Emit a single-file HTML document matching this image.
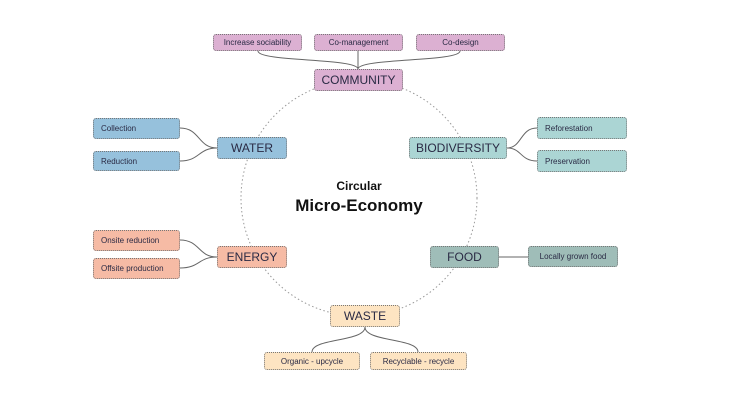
<!DOCTYPE html>
<html><head><meta charset="utf-8"><style>
body{margin:0;width:730px;height:411px;background:#fff;position:relative;overflow:hidden;font-family:"Liberation Sans",sans-serif;}
.b{position:absolute;box-sizing:border-box;border:1px dotted #777;border-radius:3px;display:flex;align-items:center;justify-content:center;color:#2a2a44;}
.s{font-size:8px;}
.s.l{justify-content:flex-start;padding-left:7px;}
.m{font-size:12px;}
.pk{background:#dcb0d2}.bl{background:#96c1dc}.or{background:#f6bba5}.tl{background:#abd5d4}.gr{background:#9fbdb8}.yl{background:#fde4c2}
.t{position:absolute;left:259px;width:200px;text-align:center;font-weight:bold;color:#111;}
</style></head><body>
<svg width="730" height="411" style="position:absolute;left:0;top:0">
<circle cx="359" cy="198" r="118" fill="none" stroke="#999" stroke-width="1" stroke-dasharray="1.5,2.5"/>
<g fill="none" stroke="#666" stroke-width="1">
<path d="M258 51 C258 62,358 58,358 69"/><path d="M358 51 L358 69"/><path d="M460 51 C460 62,358 58,358 69"/>
<path d="M180 128 C200 128,198 148,217 148"/><path d="M180 161 C200 161,198 148,217 148"/>
<path d="M180 240 C200 240,198 257,217 257"/><path d="M180 268 C200 268,198 257,217 257"/>
<path d="M507 148 C522 148,520 128,537 128"/><path d="M507 148 C522 148,520 161,537 161"/>
<path d="M499 257 L528 257"/>
<path d="M365 327 C365 342,312 338,312 352"/><path d="M365 327 C365 342,418 338,418 352"/>
</g></svg>
<div class="b s pk" style="left:213px;top:34px;width:89px;height:17px">Increase sociability</div>
<div class="b s pk" style="left:314px;top:34px;width:89px;height:17px">Co-management</div>
<div class="b s pk" style="left:416px;top:34px;width:89px;height:17px">Co-design</div>
<div class="b m pk" style="left:314px;top:69px;width:89px;height:22px">COMMUNITY</div>
<div class="b s l bl" style="left:93px;top:118px;width:87px;height:21px">Collection</div>
<div class="b s l bl" style="left:93px;top:151px;width:87px;height:20px">Reduction</div>
<div class="b m bl" style="left:217px;top:137px;width:70px;height:22px">WATER</div>
<div class="b m tl" style="left:409px;top:137px;width:98px;height:22px">BIODIVERSITY</div>
<div class="b s l tl" style="left:537px;top:117px;width:90px;height:22px">Reforestation</div>
<div class="b s l tl" style="left:537px;top:150px;width:90px;height:22px">Preservation</div>
<div class="b m gr" style="left:430px;top:246px;width:69px;height:22px">FOOD</div>
<div class="b s gr" style="left:528px;top:246px;width:90px;height:21px">Locally grown food</div>
<div class="b s l or" style="left:93px;top:230px;width:87px;height:21px">Onsite reduction</div>
<div class="b s l or" style="left:93px;top:258px;width:87px;height:21px">Offsite production</div>
<div class="b m or" style="left:217px;top:246px;width:70px;height:22px">ENERGY</div>
<div class="b m yl" style="left:330px;top:305px;width:70px;height:22px">WASTE</div>
<div class="b s yl" style="left:264px;top:352px;width:96px;height:18px">Organic - upcycle</div>
<div class="b s yl" style="left:370px;top:352px;width:97px;height:18px">Recyclable - recycle</div>
<div class="t" style="top:179px;font-size:12px">Circular</div>
<div class="t" style="top:196px;font-size:17px">Micro-Economy</div>
</body></html>
